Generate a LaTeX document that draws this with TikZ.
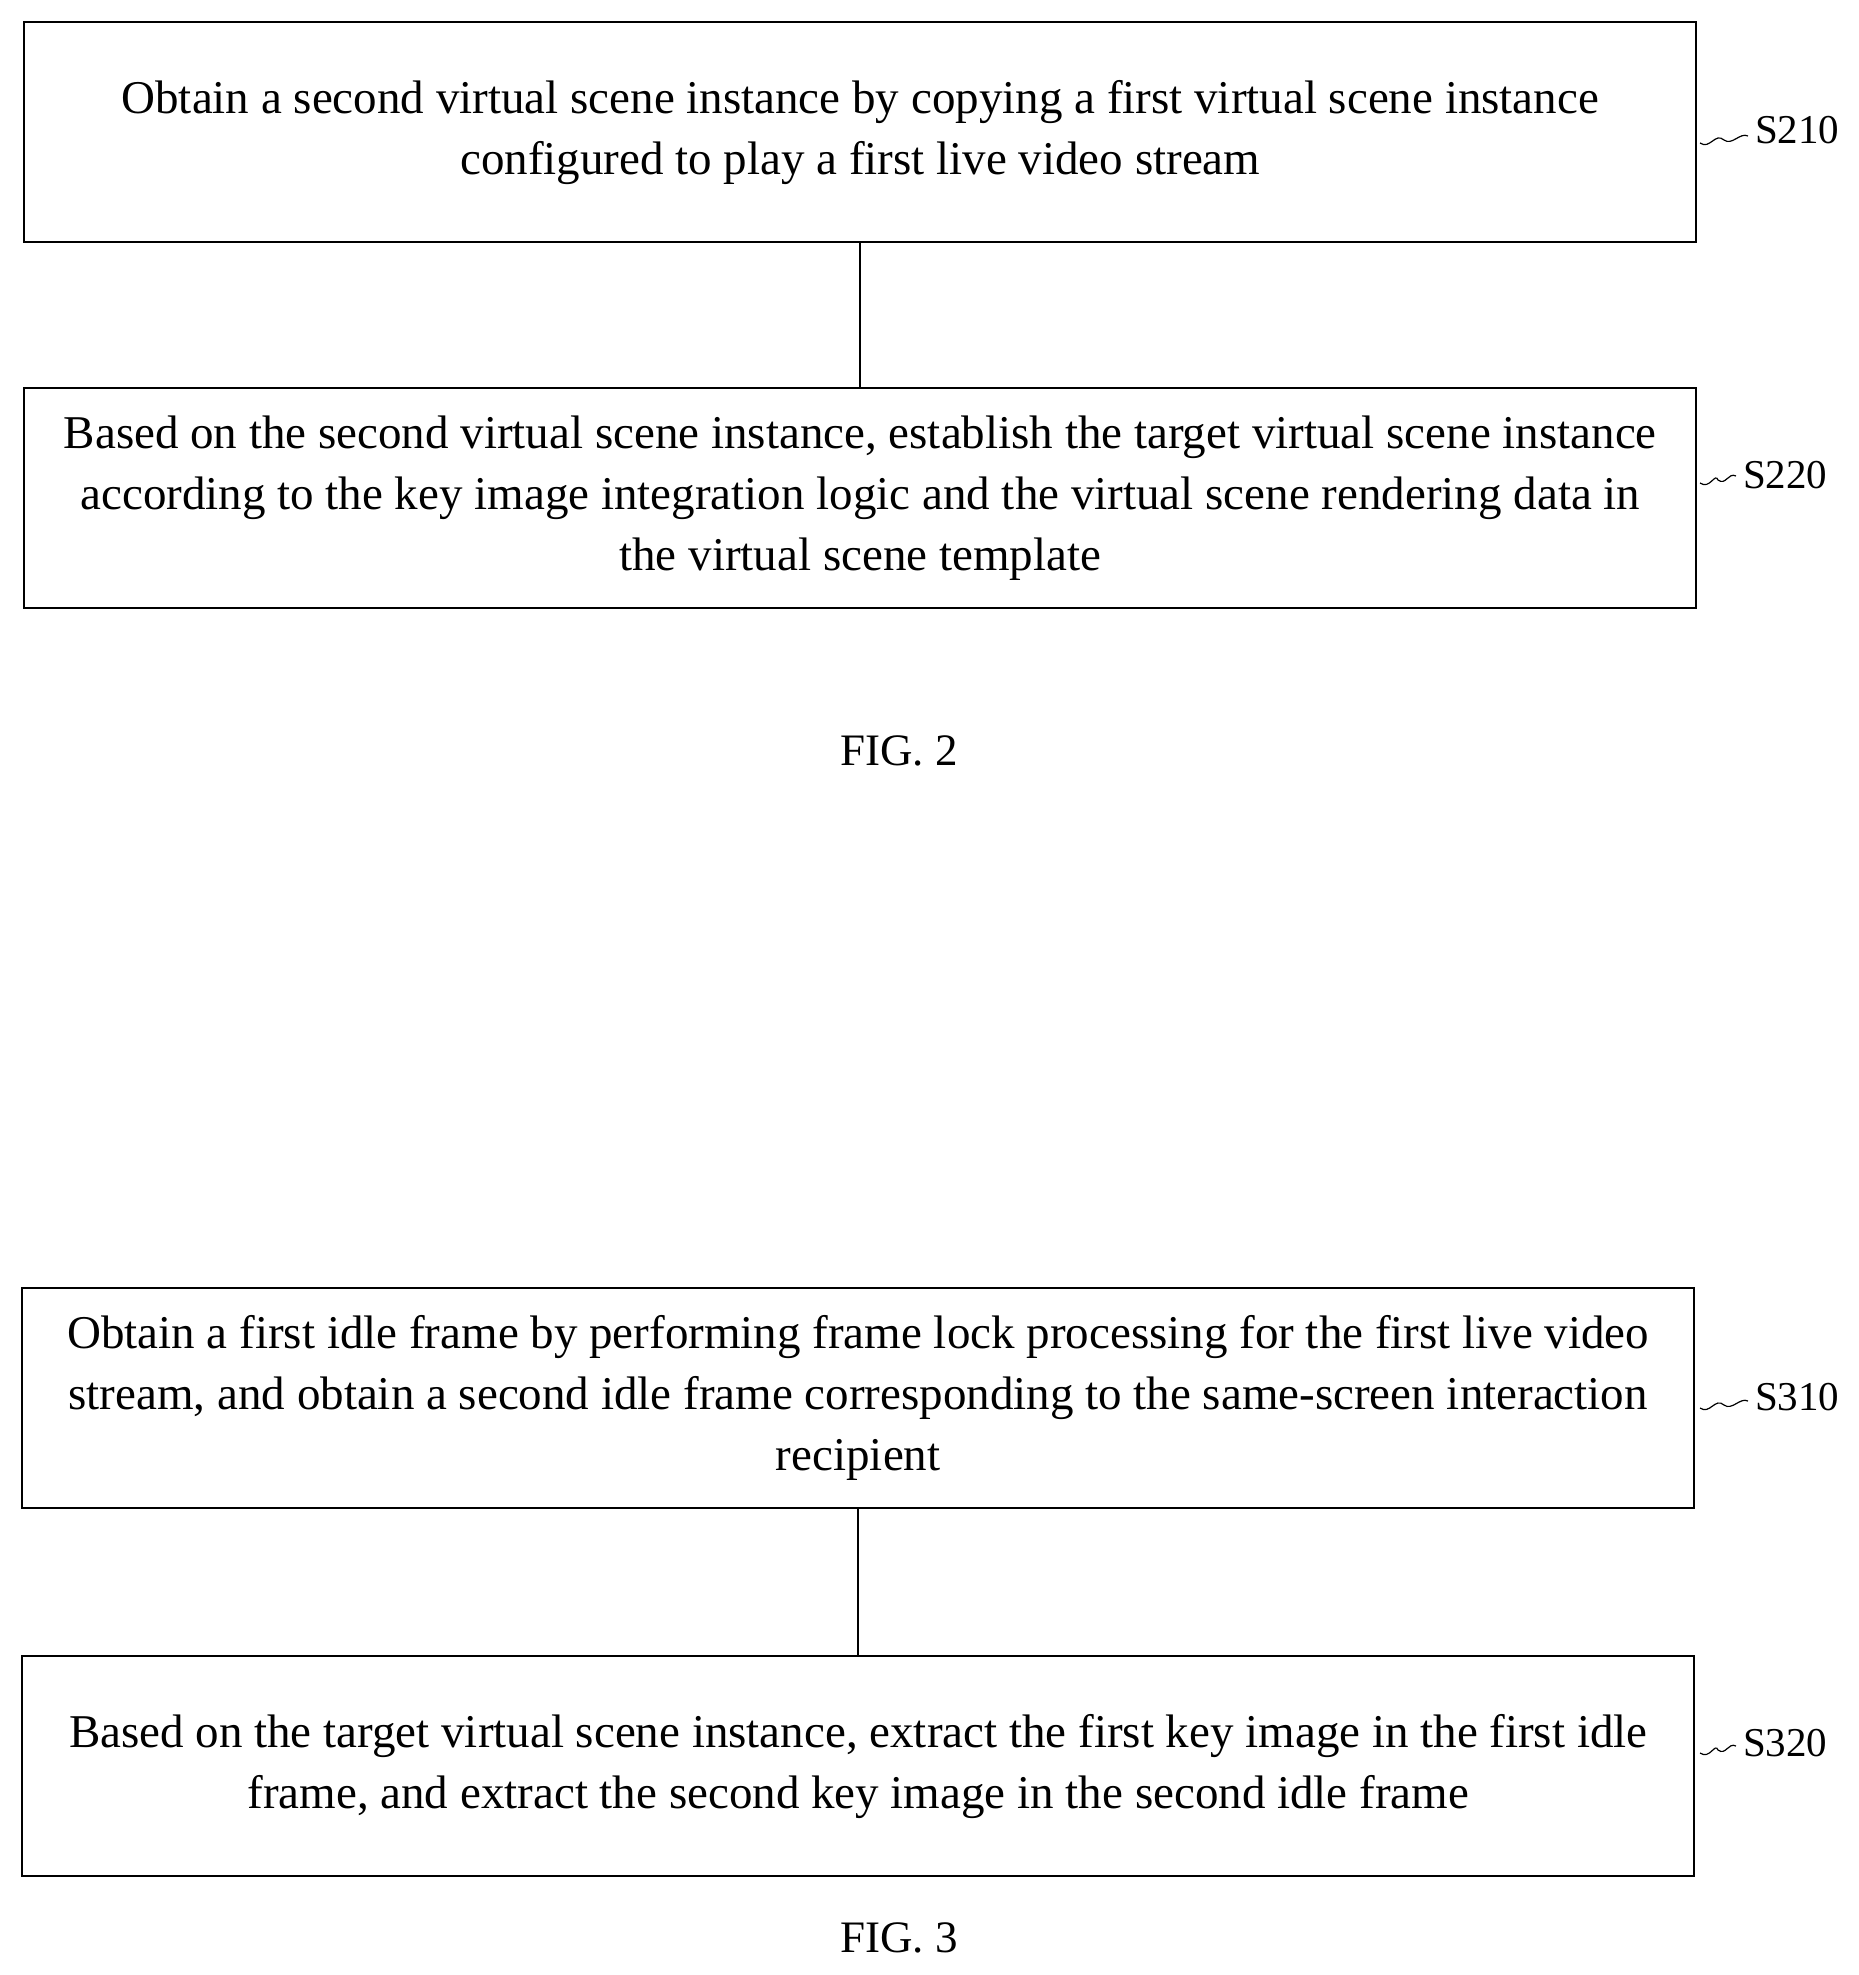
\documentclass[tikz,border=0pt]{standalone}
\usepackage{fontspec}
\setmainfont{Liberation Serif}
\begin{document}
\begin{tikzpicture}[x=0.5pt,y=-0.5pt,
  boxst/.style={draw,line width=1.2pt,minimum width=836pt,minimum height=110pt,inner sep=0pt,align=center,font=\fontsize{23.5}{30.5}\selectfont,anchor=north west},
  lab/.style={font=\fontsize{20.5}{22}\selectfont,anchor=west},
  figcap/.style={font=\fontsize{22.5}{24}\selectfont},
  sq/.style={line width=0.6pt}]
\useasboundingbox (0,0) rectangle (1858,1975);
\node[boxst] (b1) at (23,21) {Obtain a second virtual scene instance by copying a first virtual scene instance\\configured to play a first live video stream};
\node[boxst] (b2) at (23,387) {Based on the second virtual scene instance, establish the target virtual scene instance\\according to the key image integration logic and the virtual scene rendering data in\\the virtual scene template};
\node[figcap] (f2) at (899,751) {FIG. 2};
\node[boxst] (b3) at (21,1287) {Obtain a first idle frame by performing frame lock processing for the first live video\\stream, and obtain a second idle frame corresponding to the same-screen interaction\\recipient};
\node[boxst] (b4) at (21,1655) {Based on the target virtual scene instance, extract the first key image in the first idle\\frame, and extract the second key image in the second idle frame};
\node[figcap] (f3) at (899,1938) {FIG. 3};
\draw[line width=1.2pt] (b1.south) -- (b2.north);
\draw[line width=1.2pt] (b3.south) -- (b4.north);
\node[lab] (l1) at (1748,130) {S210};
\node[lab] (l2) at (1736,475) {S220};
\node[lab] (l3) at (1748,1397) {S310};
\node[lab] (l4) at (1736,1743) {S320};
\foreach \n/\y/\e in {1/140/1748,2/480/1736,3/1405/1748,4/1750/1736}{
  \draw[sq] (1700,\y+3) .. controls (1710,\y+10) and (1715,\y-8) .. ({(1700+\e)/2},\y) .. controls ({(1700+\e)/2+8},\y+6) and (\e-8,\y-8) .. (\e,\y-4);
}
\end{tikzpicture}
\end{document}
